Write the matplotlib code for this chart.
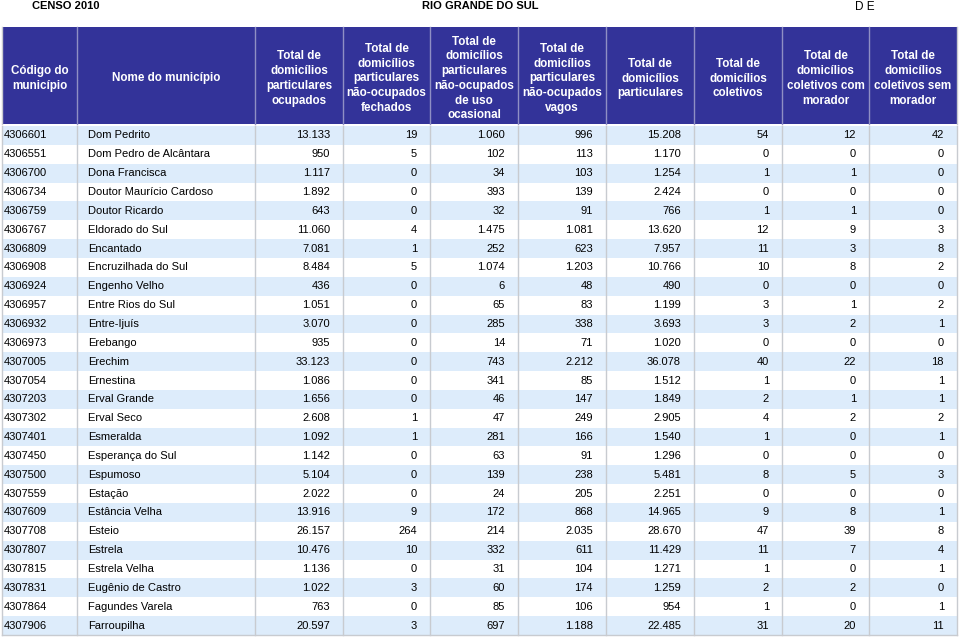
import matplotlib
matplotlib.use("Agg")
import matplotlib.pyplot as plt
from matplotlib.patches import Rectangle

plt.rcParams['font.family'] = ['Liberation Sans', 'DejaVu Sans']

title_left = "CENSO 2010"
title_center = "RIO GRANDE DO SUL"
title_right = "D E"

headers = [
    "Código do\nmunicípio",
    "Nome do município",
    "Total de\ndomicílios\nparticulares\nocupados",
    "Total de\ndomicílios\nparticulares\nnão-ocupados\nfechados",
    "Total de\ndomicílios\nparticulares\nnão-ocupados\nde uso\nocasional",
    "Total de\ndomicílios\nparticulares\nnão-ocupados\nvagos",
    "Total de\ndomicílios\nparticulares",
    "Total de\ndomicílios\ncoletivos",
    "Total de\ndomicílios\ncoletivos com\nmorador",
    "Total de\ndomicílios\ncoletivos sem\nmorador",
]

codes = ["4306601", "4306551", "4306700", "4306734", "4306759", "4306767", "4306809",
         "4306908", "4306924", "4306957", "4306932", "4306973", "4307005", "4307054",
         "4307203", "4307302", "4307401", "4307450", "4307500", "4307559", "4307609",
         "4307708", "4307807", "4307815", "4307831", "4307864", "4307906"]
names = ["Dom Pedrito", "Dom Pedro de Alcântara", "Dona Francisca", "Doutor Maurício Cardoso",
         "Doutor Ricardo", "Eldorado do Sul", "Encantado", "Encruzilhada do Sul",
         "Engenho Velho", "Entre Rios do Sul", "Entre-Ijuís", "Erebango", "Erechim",
         "Ernestina", "Erval Grande", "Erval Seco", "Esmeralda", "Esperança do Sul",
         "Espumoso", "Estação", "Estância Velha", "Esteio", "Estrela", "Estrela Velha",
         "Eugênio de Castro", "Fagundes Varela", "Farroupilha"]
ocupados = ["13.133", "950", "1.117", "1.892", "643", "11.060", "7.081", "8.484", "436",
            "1.051", "3.070", "935", "33.123", "1.086", "1.656", "2.608", "1.092", "1.142",
            "5.104", "2.022", "13.916", "26.157", "10.476", "1.136", "1.022", "763", "20.597"]
fechados = ["19", "5", "0", "0", "0", "4", "1", "5", "0", "0", "0", "0", "0", "0", "0", "1",
            "1", "0", "0", "0", "9", "264", "10", "0", "3", "0", "3"]
ocasional = ["1.060", "102", "34", "393", "32", "1.475", "252", "1.074", "6", "65", "285", "14",
             "743", "341", "46", "47", "281", "63", "139", "24", "172", "214", "332", "31",
             "60", "85", "697"]
vagos = ["996", "113", "103", "139", "91", "1.081", "623", "1.203", "48", "83", "338", "71",
         "2.212", "85", "147", "249", "166", "91", "238", "205", "868", "2.035", "611", "104",
         "174", "106", "1.188"]
particulares = ["15.208", "1.170", "1.254", "2.424", "766", "13.620", "7.957", "10.766", "490",
                "1.199", "3.693", "1.020", "36.078", "1.512", "1.849", "2.905", "1.540", "1.296",
                "5.481", "2.251", "14.965", "28.670", "11.429", "1.271", "1.259", "954", "22.485"]
coletivos = ["54", "0", "1", "0", "1", "12", "11", "10", "0", "3", "3", "0", "40", "1", "2", "4",
             "1", "0", "8", "0", "9", "47", "11", "1", "2", "1", "31"]
com_morador = ["12", "0", "1", "0", "1", "9", "3", "8", "0", "1", "2", "0", "22", "0", "1", "2",
               "0", "0", "5", "0", "8", "39", "7", "0", "2", "0", "20"]
sem_morador = ["42", "0", "0", "0", "0", "3", "8", "2", "0", "2", "1", "0", "18", "1", "1", "2",
               "1", "0", "3", "0", "1", "8", "4", "1", "0", "1", "11"]

columns = [codes, names, ocupados, fechados, ocasional, vagos, particulares,
           coletivos, com_morador, sem_morador]

# layout (pixel space)
W, H = 960, 638
col_edges = [2, 77, 255, 343, 430, 518, 606, 694, 782, 869, 957]
head_top, head_bot = 27, 124
data_top, data_bot = 126, 635
n = len(codes)
row_h = (data_bot - data_top) / n

header_blue = "#333399"
row_blue = "#ddecfb"
grid_gray = "#c8cbd0"

fig = plt.figure(figsize=(W / 100, H / 100), dpi=100)
ax = fig.add_axes([0, 0, 1, 1])
ax.set_xlim(0, W)
ax.set_ylim(H, 0)
ax.axis("off")

# titles
ax.text(32, 6, title_left, fontsize=8, fontweight="bold", ha="left", va="center")
ax.text(480, 6, title_center, fontsize=8, fontweight="bold", ha="center", va="center")
ax.text(865, 7, title_right, fontsize=8.5, ha="center", va="center")

# header
ax.add_patch(Rectangle((col_edges[0], head_top), col_edges[-1] - col_edges[0],
                       head_bot - head_top, facecolor=header_blue, edgecolor="none"))
for i, h in enumerate(headers):
    cx = (col_edges[i] + col_edges[i + 1]) / 2
    ax.text(cx, (head_top + head_bot) / 2 + 3, h, color="white", fontsize=8.4,
            fontweight="bold", ha="center", va="center", linespacing=1.3)

# data rows
for r in range(n):
    y0 = data_top + r * row_h
    if r % 2 == 0:
        ax.add_patch(Rectangle((col_edges[0], y0), col_edges[-1] - col_edges[0], row_h,
                               facecolor=row_blue, edgecolor="none"))
    yc = y0 + row_h / 2
    for c, col in enumerate(columns):
        if c == 0:
            ax.text(col_edges[0] + 2, yc, col[r], fontsize=8, ha="left", va="center")
        elif c == 1:
            ax.text(col_edges[1] + 11, yc, col[r], fontsize=8, ha="left", va="center")
        else:
            ax.text(col_edges[c + 1] - 13, yc, col[r], fontsize=8, ha="right", va="center")

# grid lines
for i, x in enumerate(col_edges):
    ax.plot([x, x], [data_top, data_bot], color=grid_gray, lw=1)
    ax.plot([x, x], [head_top, head_bot], color="#8f8fc4" if 0 < i < len(col_edges) - 1 else grid_gray, lw=1)
ax.plot([col_edges[0], col_edges[-1]], [data_bot, data_bot], color=grid_gray, lw=1)

fig.savefig("out.png", dpi=100)
